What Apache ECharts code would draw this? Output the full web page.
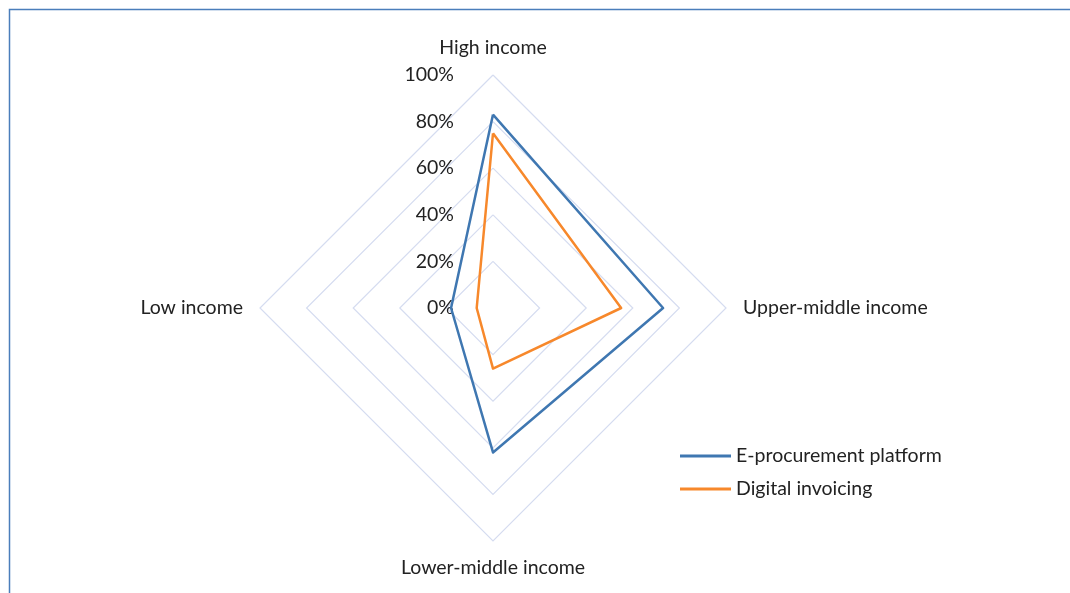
<!DOCTYPE html>
<html><head><meta charset="utf-8">
<script src="https://cdn.jsdelivr.net/npm/echarts@6/dist/echarts.min.js"></script>
<style>html,body{margin:0;padding:0;background:#fff}#c{width:1070px;height:593px}</style>
</head><body><div id="c"></div>
<script>
// Indicators in drawing order (counter-clockwise from top)
const categories = ['High income', 'Low income', 'Lower-middle income', 'Upper-middle income'];
const seriesNames = ['E-procurement platform', 'Digital invoicing'];
const eProcurement = [83, 18, 62, 73];
const digitalInvoicing = [75, 7, 26, 55];
const tickMax = 100;

const chart = echarts.init(document.getElementById('c'));
const FONT = 'Lato';
chart.setOption({
  animation: false,
  graphic: [{type: 'rect', shape: {x: 9.5, y: 9.5, width: 2000, height: 2000}, style: {fill: 'none', stroke: '#4a7ebb', lineWidth: 1.5}}],
  legend: {
    orient: 'vertical', left: 675, top: 441, itemGap: 13,
    itemWidth: 51, itemHeight: 3, icon: 'rect',
    textStyle: {fontFamily: FONT, fontSize: 19.5, color: '#222'},
    data: seriesNames
  },
  radar: {
    center: [493, 308], radius: 233, startAngle: 90, shape: 'polygon',
    splitNumber: 5,
    axisName: {fontFamily: FONT, fontSize: 19.5, color: '#222'},
    nameGap: 17,
    axisLine: {show: false},
    axisTick: {show: false},
    splitArea: {show: false},
    splitLine: {lineStyle: {color: '#d5dcf0', width: 1.2}},
    indicator: categories.map((n, i) => i === 0 ? {
      name: n, min: 0, max: tickMax,
      axisLabel: {show: true, fontFamily: FONT, fontSize: 19.5, color: '#222', margin: 39, formatter: v => v + '%'}
    } : {name: n, min: 0, max: tickMax})
  },
  series: [{
    type: 'radar', symbol: 'none',
    data: [
      {name: seriesNames[0], value: eProcurement, lineStyle: {color: '#3f77b1', width: 2.5}, itemStyle: {color: '#3f77b1'}},
      {name: seriesNames[1], value: digitalInvoicing, lineStyle: {color: '#f7882b', width: 2.5}, itemStyle: {color: '#f7882b'}}
    ]
  }]
});
</script></body></html>
